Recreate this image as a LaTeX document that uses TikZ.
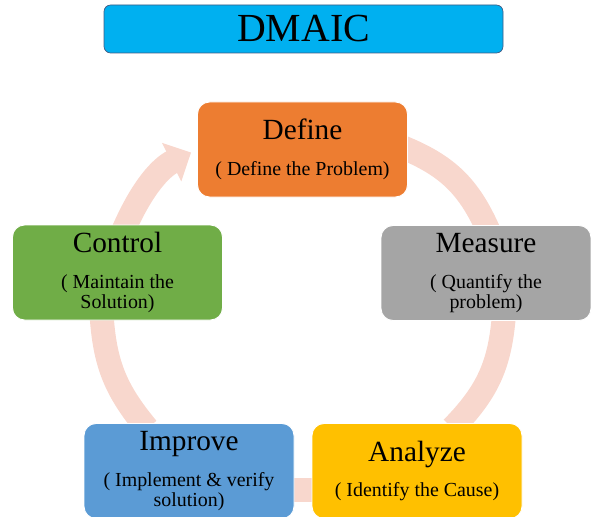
\documentclass[tikz,border=0pt]{standalone}
\usepackage{fontspec}
\setmainfont{Liberation Serif}
\usetikzlibrary{arrows.meta,backgrounds}

\definecolor{titleblue}{RGB}{0,176,240}
\definecolor{titleborder}{RGB}{65,90,130}
\definecolor{ringpink}{RGB}{248,215,205}
\definecolor{defineorange}{RGB}{237,125,49}
\definecolor{measuregray}{RGB}{165,165,165}
\definecolor{analyzegold}{RGB}{255,192,0}
\definecolor{improveblue}{RGB}{91,155,213}
\definecolor{controlgreen}{RGB}{112,173,71}

\newcommand{\stagehead}[1]{{\fontsize{25}{28}\selectfont #1}}

\begin{document}
\begin{tikzpicture}[
		stage/.style={draw=white, line width=0.8pt, rounded corners=0.36cm, minimum width=6.3cm, minimum height=2.85cm, align=center, font=\fontsize{17}{17.5}\selectfont},
		ring/.style={draw=ringpink, line width=0.72cm, shorten <=-6pt, shorten >=-6pt},
		ringarrow/.style={ring, shorten >=0.2cm, -{Triangle[width=1.25cm,length=0.65cm]}},
	]
		\useasboundingbox (0,0) rectangle (17.73,-15.51);
		\node (title) [draw=titleborder, line width=0.6pt, fill=titleblue, rounded corners=0.2cm, minimum width=11.97cm, minimum height=1.44cm, font=\fontsize{34}{40}\selectfont] at (9.105,-0.87) {DMAIC};
		
		\node (define) [stage, fill=defineorange] at (9.075,-4.485) {\stagehead{Define}\\[13pt]( Define the Problem)};
		\node (measure) [stage, fill=measuregray] at (14.58,-8.19) {\stagehead{Measure}\\[13pt]( Quantify the\\problem)};
		\node (analyze) [stage, fill=analyzegold] at (12.51,-14.13) {\stagehead{Analyze}\\[13pt]( Identify the Cause)};
		\node (improve) [stage, fill=improveblue] at (5.67,-14.13) {\stagehead{Improve}\\[13pt]( Implement \& verify\\solution)};
		\node (control) [stage, fill=controlgreen] at (3.525,-8.175) {\stagehead{Control}\\[13pt]( Maintain the\\Solution)};
		
		% cycle ring behind the boxes
		\begin{scope}[on background layer]
			\draw[ring] (define.east) to[bend left=22] (measure.north);
			\draw[ring] (measure.-70) to[bend left=20] (analyze.50);
			\draw[ring] (analyze.190) -- (improve.-10);
			\draw[ring] (improve.134) to[bend left=18] (control.252);
			\draw[ringarrow] (control.80) to[bend left=20] (define.west);
		\end{scope}
	\end{tikzpicture}
\end{document}
